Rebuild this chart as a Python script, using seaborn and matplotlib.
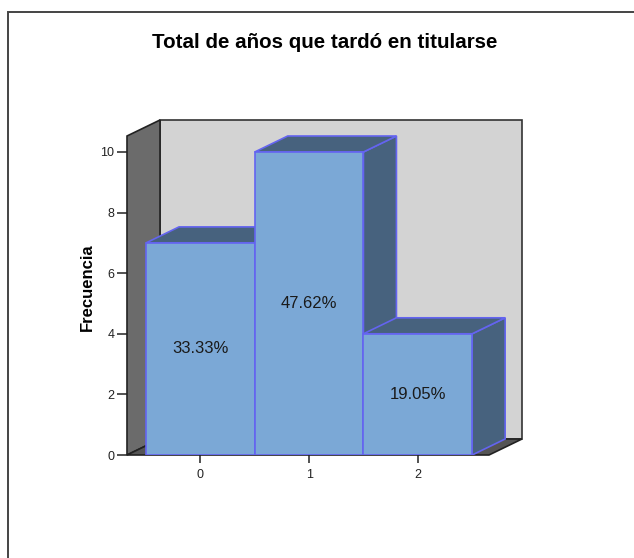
import matplotlib
matplotlib.use("Agg")
import matplotlib.pyplot as plt
import seaborn as sns
from matplotlib.patches import Polygon, Rectangle

# datos
categorias = ["0", "1", "2"]
frecuencias = [7, 10, 4]
porcentajes = ["33.33%", "47.62%", "19.05%"]
ticks_y = [0, 2, 4, 6, 8, 10]

titulo = "Total de años que tardó en titularse"
etiqueta_y = "Frecuencia"

# colores estilo SPSS
c_frente = "#7BA8D6"
c_borde = "#6464F0"
c_oscuro = "#47627E"
c_fondo = "#D3D3D3"
c_pared = "#6B6B6B"
c_suelo = "#555555"

sns.set_theme(style="white")
plt.rcParams["font.family"] = ["Liberation Sans", "DejaVu Sans"]

fig = plt.figure(figsize=(6.34, 5.58), dpi=100)

# marco exterior
fig.patches.append(Rectangle((8 / 634, -0.05), 1.0, (558 - 12) / 558 + 0.05,
                             transform=fig.transFigure, fill=False,
                             edgecolor="#444444", linewidth=1.4))

fig.text(325 / 634, 1 - 43 / 558, titulo, ha="center", va="center",
         fontsize=14.8, fontweight="bold", color="black")

# ejes: plano frontal desde x=127px, y=0 en 455px
ax = fig.add_axes([127 / 634, (558 - 455) / 558, 395 / 634, 335 / 558])
ax.set_facecolor("none")

sns.barplot(x=categorias, y=frecuencias, width=1.0, color=c_frente,
            edgecolor=c_borde, linewidth=1.2, saturation=1, ax=ax)

x_izq = -0.675
dx = 33 / 108.7
dy = 16 / 30.3
x_der = x_izq + 3.33
y_max = 335 / 30.3

ax.set_xlim(x_izq, x_der + dx)
ax.set_ylim(0, y_max)

# paredes
ax.add_patch(Polygon([(x_izq + dx, dy), (x_der + dx, dy), (x_der + dx, y_max),
                      (x_izq + dx, y_max)], closed=True, facecolor=c_fondo,
                     edgecolor="#333333", linewidth=1.2, zorder=1, clip_on=False))
ax.add_patch(Polygon([(x_izq, 0), (x_izq + dx, dy), (x_izq + dx, y_max),
                      (x_izq, y_max - dy)], closed=True, facecolor=c_pared,
                     edgecolor="#222222", linewidth=1.2, zorder=2, clip_on=False))
ax.add_patch(Polygon([(x_izq, 0), (x_der, 0), (x_der + dx, dy), (x_izq + dx, dy)],
                     closed=True, facecolor=c_suelo, edgecolor="#222222",
                     linewidth=1.2, zorder=2, clip_on=False))

# caras superiores y laterales de cada barra
for i, p in enumerate(ax.patches[:len(frecuencias)]):
    x0 = p.get_x()
    x1 = x0 + p.get_width()
    h = p.get_height()
    base = 10 + 3 * i
    lado = Polygon([(x1, 0), (x1 + dx, dy), (x1 + dx, h + dy), (x1, h)], closed=True,
                   facecolor=c_oscuro, edgecolor=c_borde, linewidth=1.2, zorder=base)
    tapa = Polygon([(x0, h), (x0 + dx, h + dy), (x1 + dx, h + dy), (x1, h)], closed=True,
                   facecolor=c_oscuro, edgecolor=c_borde, linewidth=1.2, zorder=base + 1)
    ax.add_patch(lado)
    ax.add_patch(tapa)
    p.set_zorder(base + 2)
    ax.text(x0 + p.get_width() / 2, h / 2, porcentajes[i], ha="center", va="center",
            fontsize=12, color="#1a1a1a", zorder=40)

for s in ax.spines.values():
    s.set_visible(False)

ax.set_yticks(ticks_y)
ax.set_yticklabels([str(t) for t in ticks_y])
ax.tick_params(axis="y", direction="out", length=7, width=1.2, color="#333333",
               labelsize=9, labelcolor="#222222", left=True, pad=2)
ax.tick_params(axis="x", direction="out", length=6, width=1.2, color="#333333",
               labelsize=9, labelcolor="#222222", bottom=True, pad=4)
ax.set_xlabel("")
ax.set_ylabel(etiqueta_y, fontsize=12, fontweight="bold", color="black", labelpad=4)

fig.savefig("out.png", dpi=100)
